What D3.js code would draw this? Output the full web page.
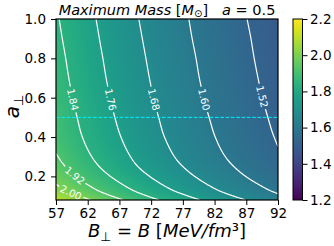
<!DOCTYPE html>
<html>
<head>
<meta charset="utf-8">
<script src="https://cdn.jsdelivr.net/npm/d3@7"></script>
<style>
  body { margin: 0; background: #fff; }
  svg { display: block; font-family: "DejaVu Sans", sans-serif; }
</style>
</head>
<body>
<svg id="chart_svg" width="334" height="246"></svg>
<script>
// B (MeV/fm^3) columns and a_perp rows of the max-mass grid
const bValues = [57, 62, 67, 72, 77, 82, 87, 92];
const aValues = [0.08, 0.1, 0.125, 0.15, 0.2, 0.25, 0.3, 0.4, 0.5, 0.6, 0.7, 0.8, 0.9, 1.0];
const massGrid = [
  [2.096, 2.008, 1.929, 1.857, 1.793, 1.733, 1.679, 1.628],
  [2.065, 1.979, 1.902, 1.832, 1.770, 1.712, 1.659, 1.610],
  [2.032, 1.948, 1.873, 1.806, 1.745, 1.689, 1.638, 1.590],
  [2.008, 1.926, 1.853, 1.787, 1.727, 1.673, 1.623, 1.576],
  [1.971, 1.891, 1.821, 1.757, 1.700, 1.648, 1.599, 1.555],
  [1.943, 1.866, 1.797, 1.735, 1.680, 1.629, 1.582, 1.538],
  [1.925, 1.849, 1.782, 1.721, 1.666, 1.616, 1.570, 1.527],
  [1.902, 1.828, 1.763, 1.703, 1.650, 1.601, 1.556, 1.515],
  [1.890, 1.816, 1.751, 1.693, 1.640, 1.592, 1.548, 1.507],
  [1.878, 1.806, 1.742, 1.684, 1.632, 1.584, 1.541, 1.500],
  [1.869, 1.798, 1.734, 1.677, 1.625, 1.578, 1.535, 1.495],
  [1.862, 1.791, 1.728, 1.671, 1.620, 1.573, 1.530, 1.491],
  [1.854, 1.784, 1.721, 1.665, 1.614, 1.568, 1.526, 1.486],
  [1.847, 1.777, 1.715, 1.659, 1.609, 1.563, 1.521, 1.482]
];
const contourLevels = [1.52, 1.60, 1.68, 1.76, 1.84, 1.92, 2.00];
// where the inline labels sit: [level, B, a]
const labelSpots = [
  [1.84, 59.6, 0.59], [1.76, 65.5, 0.59], [1.68, 72.3, 0.59],
  [1.60, 80.2, 0.59], [1.52, 89.4, 0.605], [1.92, 60.0, 0.207], [2.00, 59.3, 0.114]
];
const xTicks = [57, 62, 67, 72, 77, 82, 87, 92];
const yTicks = [0.2, 0.4, 0.6, 0.8, 1.0];
const cbarTicks = [1.2, 1.4, 1.6, 1.8, 2.0, 2.2];
const colorDomain = [1.2, 2.2];
const markedA = 0.5;

const margin = { top: 19, left: 56 };
const W = 222, H = 181;

const svg = d3.select("#chart_svg");
const defs = svg.append("defs");

const x = d3.scaleLinear().domain([57, 92]).range([margin.left, margin.left + W]);
const y = d3.scaleLinear().domain([0.08, 1.0]).range([margin.top + H, margin.top]);
const color = v => d3.interpolateViridis((v - colorDomain[0]) / (colorDomain[1] - colorDomain[0]));

// cubic hermite through the grid points (smooth shading like the original)
function hermite(xs, ys, t0) {
  const n = xs.length;
  const t = Math.max(xs[0], Math.min(xs[n - 1], t0));
  let i = d3.bisectRight(xs, t) - 1;
  i = Math.max(0, Math.min(n - 2, i));
  const slope = k => {
    if (k === 0) return (ys[1] - ys[0]) / (xs[1] - xs[0]);
    if (k === n - 1) return (ys[n - 1] - ys[n - 2]) / (xs[n - 1] - xs[n - 2]);
    return ((ys[k + 1] - ys[k]) / (xs[k + 1] - xs[k]) + (ys[k] - ys[k - 1]) / (xs[k] - xs[k - 1])) / 2;
  };
  const h = xs[i + 1] - xs[i];
  const s = (t - xs[i]) / h;
  const m0 = slope(i) * h, m1 = slope(i + 1) * h;
  const s2 = s * s, s3 = s2 * s;
  return (2 * s3 - 3 * s2 + 1) * ys[i] + (s3 - 2 * s2 + s) * m0 + (-2 * s3 + 3 * s2) * ys[i + 1] + (s3 - s2) * m1;
}

// sample field at pixel resolution, padded so the contour borders fall outside the clip
const pad = 3;
const nx = W + 2 * pad, ny = H + 2 * pad;
const values = new Float64Array(nx * ny);
for (let i = 0; i < nx; i++) {
  const b = x.invert(margin.left + i - pad + 0.5);
  const col = massGrid.map(row => hermite(bValues, row, b));
  for (let j = 0; j < ny; j++) {
    const a = y.invert(margin.top + j - pad + 0.5);
    values[j * nx + i] = hermite(aValues, col, a);
  }
}

// heatmap raster
const canvas = document.createElement("canvas");
canvas.width = W; canvas.height = H;
const ctx = canvas.getContext("2d");
const img = ctx.createImageData(W, H);
for (let j = 0; j < H; j++) {
  for (let i = 0; i < W; i++) {
    const c = d3.rgb(color(values[(j + pad) * nx + i + pad]));
    const o = (j * W + i) * 4;
    img.data[o] = c.r; img.data[o + 1] = c.g; img.data[o + 2] = c.b; img.data[o + 3] = 255;
  }
}
ctx.putImageData(img, 0, 0);

defs.append("clipPath").attr("id", "plotClip")
  .append("rect").attr("x", margin.left).attr("y", margin.top).attr("width", W).attr("height", H);

svg.append("image")
  .attr("x", margin.left).attr("y", margin.top)
  .attr("width", W).attr("height", H)
  .attr("preserveAspectRatio", "none")
  .attr("href", canvas.toDataURL());

// contours
const contours = d3.contours().size([nx, ny]).thresholds(contourLevels)(values);
const path = d3.geoPath(d3.geoIdentity().translate([margin.left - pad, margin.top - pad]));
const toPx = p => [margin.left - pad + p[0], margin.top - pad + p[1]];

const mask = defs.append("mask").attr("id", "gapMask")
  .attr("maskUnits", "userSpaceOnUse")
  .attr("x", 0).attr("y", 0).attr("width", 334).attr("height", 246);
mask.append("rect").attr("width", 334).attr("height", 246).attr("fill", "white");

const g_plot = svg.append("g").attr("clip-path", "url(#plotClip)");
g_plot.append("g").attr("mask", "url(#gapMask)")
  .selectAll("path").data(contours).join("path")
  .attr("d", path)
  .attr("fill", "none")
  .attr("stroke", "white")
  .attr("stroke-width", 1.2);

const g_labels = svg.append("g");
labelSpots.forEach(([level, b, a]) => {
  const c = contours.find(d => Math.abs(d.value - level) < 1e-9);
  if (!c) return;
  const tx = x(b), ty = y(a);
  let best = null, bestD = Infinity;
  c.coordinates.forEach(poly => poly.forEach(ring => {
    ring.forEach((p, k) => {
      const [px, py] = toPx(p);
      const dd = (px - tx) ** 2 + (py - ty) ** 2;
      if (dd < bestD) { bestD = dd; best = { ring, k, px, py }; }
    });
  }));
  const n = best.ring.length;
  const p0 = toPx(best.ring[(best.k - 5 + n) % n]);
  const p1 = toPx(best.ring[(best.k + 5) % n]);
  let ang = Math.atan2(p1[1] - p0[1], p1[0] - p0[0]) * 180 / Math.PI;
  if (ang > 90) ang -= 180;
  if (ang < -90) ang += 180;
  const t = g_labels.append("text")
    .attr("transform", `translate(${best.px},${best.py}) rotate(${ang})`)
    .attr("text-anchor", "middle")
    .attr("dy", "0.36em")
    .attr("fill", "white")
    .style("font-size", "10px")
    .text(d3.format(".2f")(level));
  const len = t.node().getComputedTextLength();
  mask.append("rect")
    .attr("x", -len / 2 - 2).attr("y", -5)
    .attr("width", len + 4).attr("height", 10)
    .attr("transform", `translate(${best.px},${best.py}) rotate(${ang})`)
    .attr("fill", "black");
});

// dashed marker at a = 0.5
g_plot.append("line")
  .attr("x1", margin.left).attr("x2", margin.left + W)
  .attr("y1", y(markedA)).attr("y2", y(markedA))
  .attr("stroke", "#00f0ff")
  .attr("stroke-width", 1)
  .attr("stroke-dasharray", "3.7,1.6");

// axes
const x_axis = d3.axisBottom(x).tickValues(xTicks).tickSize(5).tickPadding(3.3).tickFormat(d3.format("d"));
const y_axis = d3.axisLeft(y).tickValues(yTicks).tickSize(5).tickPadding(5).tickFormat(d3.format(".1f"));

const gx = svg.append("g").attr("transform", `translate(0,${margin.top + H})`).call(x_axis);
const gy = svg.append("g").attr("transform", `translate(${margin.left},0)`).call(y_axis);
[gx, gy].forEach(g => {
  g.select(".domain").remove();
  g.selectAll("line").attr("stroke", "black").attr("stroke-width", 1);
  g.selectAll("text").attr("fill", "black").style("font-size", "13.5px").style("font-family", "DejaVu Sans");
});

svg.append("rect")
  .attr("x", margin.left).attr("y", margin.top).attr("width", W).attr("height", H)
  .attr("fill", "none").attr("stroke", "black").attr("stroke-width", 1.2);

// colorbar
const cb = { x: 293, w: 9.5 };
const grad = defs.append("linearGradient").attr("id", "viridisGrad")
  .attr("x1", 0).attr("y1", 1).attr("x2", 0).attr("y2", 0);
d3.range(0, 1.0001, 0.05).forEach(t => {
  grad.append("stop").attr("offset", t).attr("stop-color", d3.interpolateViridis(t));
});
const cScale = d3.scaleLinear().domain(colorDomain).range([margin.top + H, margin.top]);
svg.append("rect")
  .attr("x", cb.x).attr("y", margin.top).attr("width", cb.w).attr("height", H)
  .attr("fill", "url(#viridisGrad)").attr("stroke", "black").attr("stroke-width", 1);
const gc = svg.append("g").attr("transform", `translate(${cb.x + cb.w},0)`)
  .call(d3.axisRight(cScale).tickValues(cbarTicks).tickSize(5).tickPadding(2.5).tickFormat(d3.format(".1f")));
gc.select(".domain").remove();
gc.selectAll("line").attr("stroke", "black");
gc.selectAll("text").attr("fill", "black").style("font-size", "13.5px").style("font-family", "DejaVu Sans");

// title
const title = svg.append("text")
  .attr("x", margin.left + W / 2).attr("y", 14.5)
  .attr("text-anchor", "middle")
  .style("font-size", "14.5px");
title.append("tspan").style("font-style", "italic").text("Maximum Mass ");
title.append("tspan").text("[");
title.append("tspan").style("font-style", "italic").text("M");
title.append("tspan").attr("dy", 2).style("font-size", "10px").text("⊙");
title.append("tspan").attr("dy", -2).text("]");
title.append("tspan").attr("dx", 14).style("font-style", "italic").text("a");
title.append("tspan").text(" = 0.5");

// axis labels
const xLab = svg.append("text")
  .attr("x", margin.left + W / 2).attr("y", 236.5)
  .attr("text-anchor", "middle")
  .style("font-size", "18px");
xLab.append("tspan").style("font-style", "italic").text("B");
xLab.append("tspan").attr("dy", 4).style("font-size", "12.5px").text("⊥");
xLab.append("tspan").attr("dy", -4).text(" = ");
xLab.append("tspan").style("font-style", "italic").text("B");
xLab.append("tspan").text(" [");
xLab.append("tspan").style("font-style", "italic").text("MeV/fm");
xLab.append("tspan").text("³]");

const yLab = svg.append("text")
  .attr("transform", `translate(19,${margin.top + H / 2 - 3}) rotate(-90)`)
  .attr("text-anchor", "middle")
  .style("font-size", "20px");
yLab.append("tspan").style("font-style", "italic").text("a");
yLab.append("tspan").attr("dy", 4).style("font-size", "13px").text("⊥");
</script>
</body>
</html>
